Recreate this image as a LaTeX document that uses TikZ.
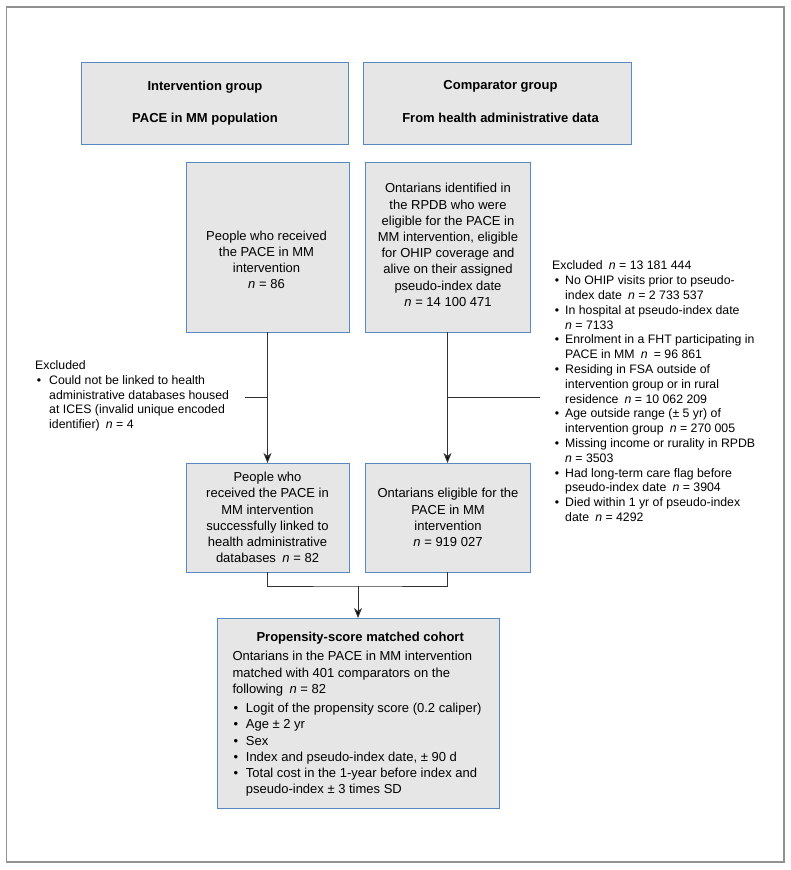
\documentclass[tikz,border=0pt]{standalone}
\usepackage{fontspec}
\setmainfont{Liberation Sans}
\usetikzlibrary{arrows.meta,calc}
\definecolor{boxfill}{RGB}{230,230,230}
\definecolor{boxline}{RGB}{88,136,192}
\definecolor{conncol}{RGB}{50,50,50}
\definecolor{framecol}{RGB}{145,145,145}
\begin{document}
\begin{tikzpicture}[x=1pt,y=-1pt,
  box/.style={draw=boxline, fill=boxfill, line width=1pt, inner sep=0pt, outer sep=0pt},
  txt/.style={inner sep=0pt, align=center, font=\fontsize{13}{16.2}\selectfont},
  head/.style={inner sep=0pt, align=center, font=\fontsize{13}{16.2}\selectfont\bfseries},
  excl/.style={inner sep=0pt, anchor=north west, font=\fontsize{12.3}{14.8}\selectfont},
  conn/.style={draw=conncol, line width=1pt},
  arr/.style={conn, -{Stealth[length=10pt,width=8pt,inset=3pt,fill=black]}}]
\useasboundingbox (0,0) rectangle (791,870);
\draw[framecol, line width=1.6pt] (6.5,7) rectangle (784,862);

% top header boxes
\node[box, minimum width=267pt, minimum height=82pt] (a) at (214.5,103) {};
\node[head] (ta) at (205,103.5) {Intervention group\\[16pt]PACE in MM population};
\node[box, minimum width=268pt, minimum height=82pt] (b) at (497,103) {};
\node[head] (tb) at (500.5,101.5) {Comparator group\\[16pt]From health administrative data};

% first-level boxes
\node[box, minimum width=163pt, minimum height=170pt] (c) at (267.5,247) {};
\node[txt] (tc) at (266.5,260) {People who received\\the PACE in MM\\intervention\\\textit{n} = 86};
\node[box, minimum width=165pt, minimum height=170pt] (d) at (447.5,247) {};
\node[txt] (td) at (448,245) {Ontarians identified in\\the RPDB who were\\eligible for the PACE in\\MM intervention, eligible\\for OHIP coverage and\\alive on their assigned\\pseudo-index date\\\textit{n} = 14 100 471};

% second-level boxes
\node[box, minimum width=163pt, minimum height=109pt] (e) at (267.5,517.5) {};
\node[txt] (te) at (267.5,517.5) {People who\\received the PACE in\\MM intervention\\successfully linked to\\health administrative\\databases\enspace\textit{n} = 82};
\node[box, minimum width=165pt, minimum height=109pt] (f) at (447.5,517.5) {};
\node[txt] (tf) at (448,517.5) {Ontarians eligible for the\\PACE in MM\\intervention\\\textit{n} = 919 027};

% final box
\node[box, minimum width=282pt, minimum height=190pt] (g) at (358,713) {};
\node[inner sep=0pt, anchor=north west, font=\fontsize{13}{16.2}\selectfont] (tg) at (232.3,630) {%
\begin{tabular}[t]{@{}l@{}l@{}}
\multicolumn{2}{@{}c@{}}{\hspace{6.4pt}\bfseries Propensity-score matched cohort}\\[3.2pt]
\multicolumn{2}{@{}l@{}}{Ontarians in the PACE in MM intervention}\\
\multicolumn{2}{@{}l@{}}{matched with 401 comparators on the}\\
\multicolumn{2}{@{}l@{}}{following\enspace\textit{n} = 82}\\[3.2pt]
\makebox[13.4pt][l]{\hspace{1.2pt}•} & Logit of the propensity score (0.2 caliper)\\
\makebox[13.4pt][l]{\hspace{1.2pt}•} & Age ± 2 yr\\
\makebox[13.4pt][l]{\hspace{1.2pt}•} & Sex\\
\makebox[13.4pt][l]{\hspace{1.2pt}•} & Index and pseudo-index date, ± 90 d\\
\makebox[13.4pt][l]{\hspace{1.2pt}•} & Total cost in the 1-year before index and\\
 & pseudo-index ± 3 times SD
\end{tabular}};

% exclusion texts
\node[excl] (xlt) at (35,359) {%
\begin{tabular}[t]{@{}l@{}l@{}}
\multicolumn{2}{@{}l@{}}{Excluded}\\
\makebox[14pt][l]{\hspace{1.7pt}•} & Could not be linked to health\\
 & administrative databases housed\\
 & at ICES (invalid unique encoded\\
 & identifier)\enspace\textit{n} = 4
\end{tabular}};

\node[excl] (xrt) at (552,259.3) {%
\begin{tabular}[t]{@{}l@{}l@{}}
\multicolumn{2}{@{}l@{}}{Excluded\enspace\textit{n} = 13 181 444}\\
\makebox[13pt][l]{\hspace{2.7pt}•} & No OHIP visits prior to pseudo-\\
 & index date\enspace\textit{n} = 2 733 537\\
\makebox[13pt][l]{\hspace{2.7pt}•} & In hospital at pseudo-index date\\
 & \textit{n} = 7133\\
\makebox[13pt][l]{\hspace{2.7pt}•} & Enrolment in a FHT participating in\\
 & PACE in MM\enspace\textit{n}\enspace= 96 861\\
\makebox[13pt][l]{\hspace{2.7pt}•} & Residing in FSA outside of\\
 & intervention group or in rural\\
 & residence\enspace\textit{n} = 10 062 209\\
\makebox[13pt][l]{\hspace{2.7pt}•} & Age outside range (± 5 yr) of\\
 & intervention group\enspace\textit{n} = 270 005\\
\makebox[13pt][l]{\hspace{2.7pt}•} & Missing income or rurality in RPDB\\
 & \textit{n} = 3503\\
\makebox[13pt][l]{\hspace{2.7pt}•} & Had long-term care flag before\\
 & pseudo-index date\enspace\textit{n} = 3904\\
\makebox[13pt][l]{\hspace{2.7pt}•} & Died within 1 yr of pseudo-index\\
 & date\enspace\textit{n} = 4292
\end{tabular}};

% connectors
\draw[arr] (c.south) -- (e.north);
\draw[arr] (d.south) -- (f.north);
\coordinate (xl) at (245,397);
\coordinate (xr) at (540,397);
\draw[conn] (xl) -- (xl -| c.south);
\draw[conn] (xr) -- (xr -| d.south);
\path (g.north) ++(0,-32) coordinate (m);
\draw[conn] (e.south) |- (m) -| (f.south);
\draw[arr] (m) -- (g.north);
\end{tikzpicture}
\end{document}
